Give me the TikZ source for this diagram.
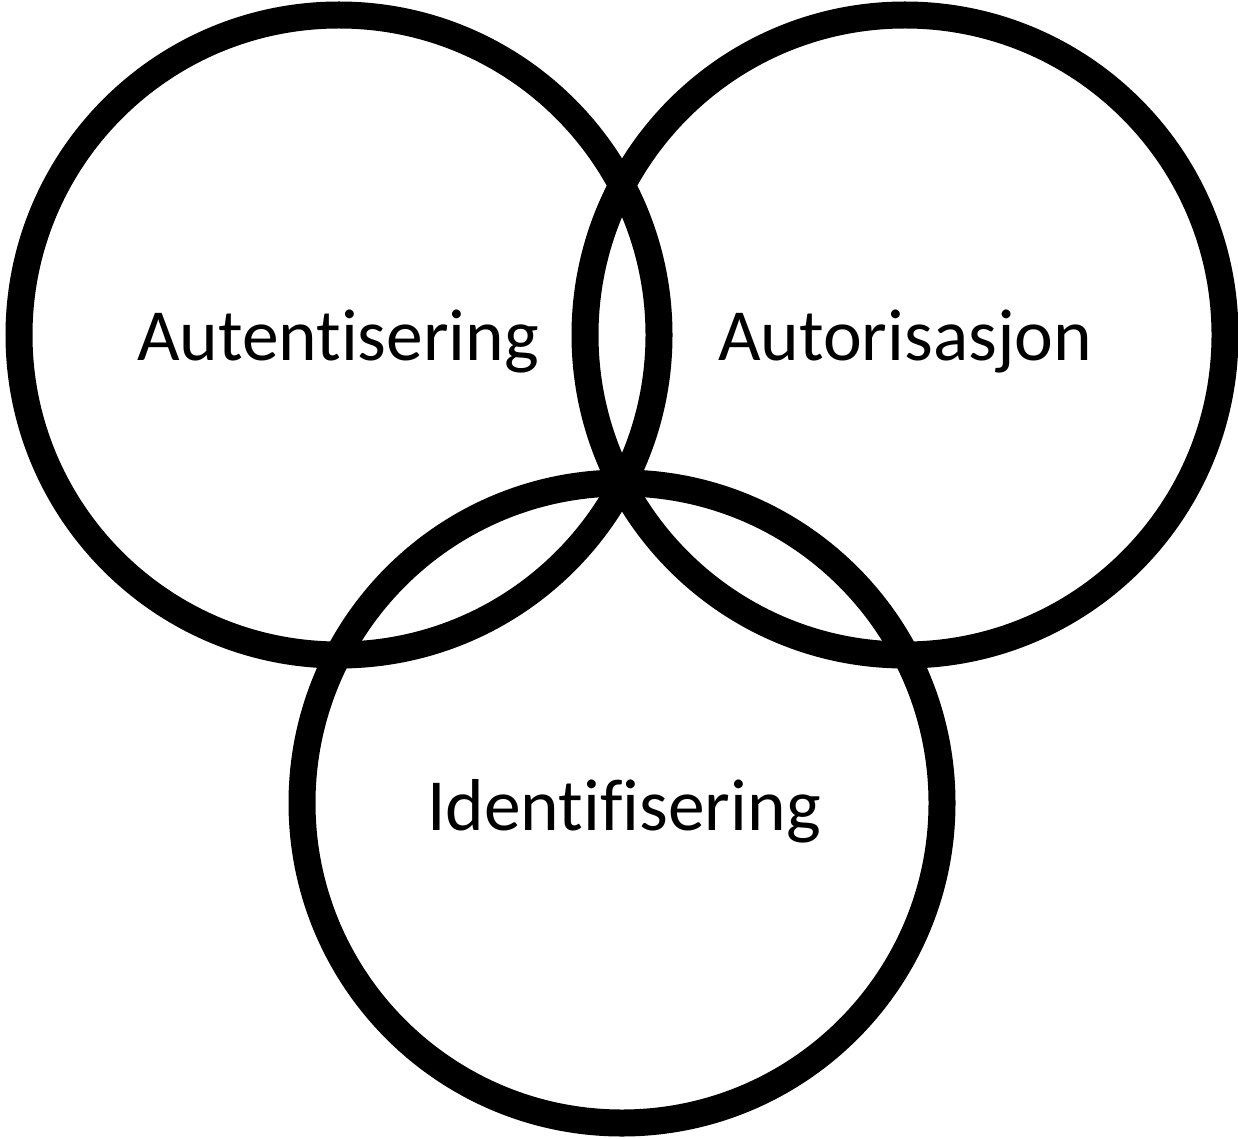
\documentclass[tikz,border=0pt]{standalone}
\usepackage{fontspec}
\setmainfont[Ligatures={NoCommon,NoRare},Contextuals=NoAlternate]{Carlito}
\begin{document}
\begin{tikzpicture}[x=1pt,y=-1pt]
			\useasboundingbox (0,0) rectangle (1238,1139);
			\tikzset{ring/.style={circle,draw=black,line width=27pt,inner sep=0pt,minimum size=640pt},
				word/.style={anchor=base,inner sep=0pt,font=\fontsize{73.5}{80}\selectfont}}
			\node[ring](aut) at (339,335){};
			\node[ring](aus) at (905,335){};
			\node[ring](id) at (622,803){};
			\node[word](autl) at (338,360){Autentisering};
			\node[word](ausl) at (905,360){Autorisasjon};
			\node[word](idl) at (624,830){Identifisering};
		\end{tikzpicture}
\end{document}
